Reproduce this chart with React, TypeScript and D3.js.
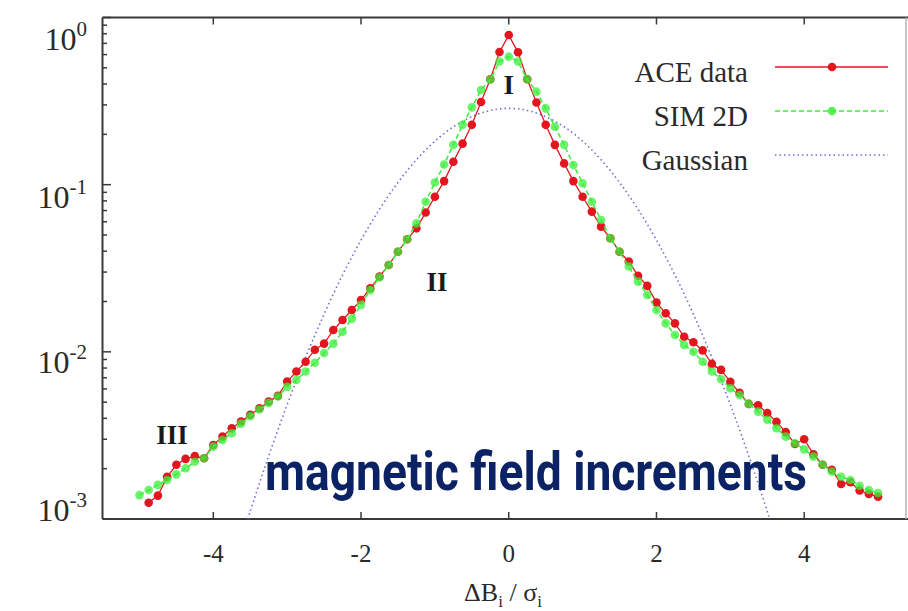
import React from "react";
import * as d3 from "d3";

// bin centres are multiples of the histogram bin width
const binWidth = 0.125;
const aceFirstBin = -39;
const simFirstBin = -40;

// ACE data, PDF of normalised increments
const aceValues = [
  1.25e-3, 1.38e-3, 1.79e-3, 2.11e-3, 2.29e-3, 2.38e-3, 2.31e-3, 2.77e-3, 3.11e-3, 3.49e-3,
  3.83e-3, 4.2e-3, 4.6e-3, 5.04e-3, 5.45e-3, 6.64e-3, 7.62e-3, 8.73e-3, 1.03e-2, 1.12e-2,
  1.35e-2, 1.55e-2, 1.78e-2, 2.04e-2, 2.4e-2, 2.82e-2, 3.31e-2, 3.97e-2, 4.71e-2, 5.48e-2,
  6.81e-2, 8.47e-2, 0.105, 0.137, 0.176, 0.228, 0.312, 0.427, 0.622, 0.785,
  0.619, 0.427, 0.31, 0.228, 0.173, 0.134, 0.105, 8.47e-2, 6.9e-2, 5.61e-2,
  4.78e-2, 3.97e-2, 3.47e-2, 2.85e-2, 2.48e-2, 1.97e-2, 1.7e-2, 1.48e-2, 1.23e-2, 1.14e-2,
  1.02e-2, 8.47e-3, 7.8e-3, 6.61e-3, 5.68e-3, 4.88e-3, 4.79e-3, 4.31e-3, 3.81e-3, 3.31e-3,
  2.81e-3, 3.0e-3, 2.44e-3, 2.11e-3, 1.97e-3, 1.62e-3, 1.66e-3, 1.48e-3, 1.41e-3, 1.36e-3,
];

// SIM 2D
const simValues = [
  1.39e-3, 1.49e-3, 1.6e-3, 1.71e-3, 1.85e-3, 2.01e-3, 2.2e-3, 2.31e-3, 2.71e-3, 2.97e-3,
  3.26e-3, 3.72e-3, 4.12e-3, 4.52e-3, 4.95e-3, 5.4e-3, 6.17e-3, 6.79e-3, 7.62e-3, 8.61e-3,
  9.84e-3, 1.12e-2, 1.32e-2, 1.58e-2, 1.91e-2, 2.34e-2, 2.79e-2, 3.31e-2, 3.97e-2, 4.71e-2,
  5.87e-2, 7.91e-2, 0.103, 0.132, 0.173, 0.228, 0.29, 0.368, 0.425, 0.545,
  0.583,
  0.545, 0.427, 0.36, 0.286, 0.222, 0.173, 0.131, 0.102, 7.91e-2, 6.15e-2,
  4.78e-2, 3.97e-2, 3.24e-2, 2.63e-2, 2.19e-2, 1.78e-2, 1.48e-2, 1.26e-2, 1.1e-2, 1.0e-2,
  8.73e-3, 7.62e-3, 6.85e-3, 6.05e-3, 5.52e-3, 4.88e-3, 4.39e-3, 3.92e-3, 3.49e-3, 3.11e-3,
  2.84e-3, 2.61e-3, 2.36e-3, 2.11e-3, 1.92e-3, 1.79e-3, 1.71e-3, 1.58e-3, 1.49e-3, 1.43e-3,
];

// Gaussian reference curve, sampled off the dotted line
const gaussX = [
  -3.75, -3.5, -3.25, -3, -2.75, -2.5, -2.25, -2, -1.75, -1.5, -1.25, -1, -0.75, -0.5, -0.25,
  0, 0.25, 0.5, 0.75, 1, 1.25, 1.5, 1.75, 2, 2.25, 2.5, 2.75, 3, 3.25, 3.5, 3.75,
];
const gaussY = [
  4.9e-4, 1.11e-3, 2.38e-3, 4.83e-3, 9.27e-3, 1.68e-2, 2.88e-2, 4.66e-2, 7.13e-2, 0.103, 0.141,
  0.182, 0.222, 0.255, 0.278, 0.286, 0.278, 0.255, 0.222, 0.182, 0.141, 0.103, 7.13e-2,
  4.66e-2, 2.88e-2, 1.68e-2, 9.27e-3, 4.83e-3, 2.38e-3, 1.11e-3, 4.9e-4,
];

const xTicks = [-4, -2, 0, 2, 4];
const yTicks = [1, 0.1, 0.01, 0.001];
const yTickExponents = ["0", "-1", "-2", "-3"];
const legendLabels = ["ACE data", "SIM 2D", "Gaussian"];
const regionLabels = ["I", "II", "III"];
const regionX = [0, -0.97, -4.56];
const regionY = [0.395, 0.026, 0.0032];

const W = 908;
const H = 611;
const serif = "'Liberation Serif', 'Times New Roman', serif";
const RED = "#e3161f";
const GREEN = "#3aef3a";
const BLUE = "#6e6ed8";

export default function App() {
  const x = d3.scaleLinear().domain([-5.5, 5.5]).range([102.5, 915]);
  const y = d3.scaleLog().domain([1e-3, 1]).range([519, 17.5]);

  const ace = aceValues.map((v, i) => ({ x: (aceFirstBin + i) * binWidth, y: v }));
  const sim = simValues.map((v, i) => ({ x: (simFirstBin + i) * binWidth, y: v }));
  const gauss = gaussX.map((gx, i) => ({ x: gx, y: gaussY[i] }));

  const line = d3
    .line<{ x: number; y: number }>()
    .x((d) => x(d.x))
    .y((d) => y(d.y));
  const smooth = line.curve(d3.curveCatmullRom);
  const gaussPath = smooth(gauss);
  line.curve(d3.curveLinear);

  const minorTicks: number[] = [];
  [0.001, 0.01, 0.1].forEach((dec) => {
    for (let m = 2; m <= 9; m++) minorTicks.push(dec * m);
  });

  // text labels sit a little off the tick in the original
  const yLabelShift = [21, 12, 10, -9];
  const legendY = [67, 111, 155];

  return (
    <svg
      width={W}
      height={H}
      style={{ position: "absolute", left: 0, top: 0, background: "#fff" }}
    >
      <defs>
        <clipPath id="plotClip">
          <rect x={102.5} y={17.5} width={812} height={501.5} />
        </clipPath>
      </defs>

      {/* frame */}
      <g stroke="#3a3a3a" strokeWidth={2} fill="none">
        <line x1={102.5} x2={W} y1={17.5} y2={17.5} />
        <line x1={102.5} x2={W} y1={519} y2={519} />
        <line x1={102.5} x2={102.5} y1={17.5} y2={519} />
      </g>
      <line x1={906} x2={906} y1={17.5} y2={519} stroke="#b5b5b5" strokeWidth={1.5} />

      {/* ticks */}
      <g stroke="#3a3a3a" strokeWidth={1.5}>
        {yTicks.map((t) => (
          <line key={"ym" + t} x1={102.5} x2={111} y1={y(t)} y2={y(t)} />
        ))}
        {minorTicks.map((t) => (
          <line key={"yn" + t} x1={102.5} x2={107} y1={y(t)} y2={y(t)} />
        ))}
        {xTicks.map((t) => (
          <g key={"xt" + t}>
            <line x1={x(t)} x2={x(t)} y1={519} y2={512} />
            <line x1={x(t)} x2={x(t)} y1={17.5} y2={24.5} />
          </g>
        ))}
      </g>

      {/* y tick labels */}
      {yTicks.map((t, i) => (
        <text
          key={"yl" + t}
          x={87}
          y={y(t) + yLabelShift[i] + 11}
          textAnchor="end"
          fontFamily={serif}
          fontSize={32}
          fill="#2a2a2a"
        >
          10
          <tspan dy={-14} fontSize={21}>
            {yTickExponents[i]}
          </tspan>
        </text>
      ))}

      {/* x tick labels */}
      {xTicks.map((t) => (
        <text
          key={"xl" + t}
          x={x(t)}
          y={562}
          textAnchor="middle"
          fontFamily={serif}
          fontSize={25}
          fill="#2a2a2a"
        >
          {t < 0 ? "-" + Math.abs(t) : t}
        </text>
      ))}

      {/* x axis title */}
      <text x={503} y={601} textAnchor="middle" fontFamily={serif} fontSize={26} fill="#2a2a2a">
        ΔB
        <tspan dy={6} fontSize={17}>i</tspan>
        <tspan dy={-6}> / σ</tspan>
        <tspan dy={6} fontSize={17}>i</tspan>
      </text>

      <g clipPath="url(#plotClip)">
        {/* Gaussian */}
        <path
          d={gaussPath || ""}
          fill="none"
          stroke={BLUE}
          strokeWidth={1.6}
          strokeDasharray="1.5 3"
        />
        {/* ACE data */}
        <path d={line(ace) || ""} fill="none" stroke={RED} strokeWidth={1.3} />
        {ace.map((d, i) => (
          <circle key={"a" + i} cx={x(d.x)} cy={y(d.y)} r={4.3} fill={RED} />
        ))}
        {/* SIM 2D */}
        <path
          d={line(sim) || ""}
          fill="none"
          stroke={GREEN}
          strokeWidth={1.5}
          strokeDasharray="5 3"
        />
        {sim.map((d, i) => (
          <circle key={"s" + i} cx={x(d.x)} cy={y(d.y)} r={4.3} fill={GREEN} fillOpacity={0.75} />
        ))}
      </g>

      {/* region labels */}
      {regionLabels.map((r, i) => (
        <text
          key={r}
          x={x(regionX[i])}
          y={y(regionY[i]) + 9}
          textAnchor="middle"
          fontFamily={serif}
          fontWeight="bold"
          fontSize={27}
          fill="#1a1a1a"
        >
          {r}
        </text>
      ))}

      {/* legend */}
      {legendLabels.map((label, i) => (
        <g key={label}>
          <text
            x={748}
            y={legendY[i] + 15}
            textAnchor="end"
            fontFamily={serif}
            fontSize={29}
            fill="#2a2a2a"
          >
            {label}
          </text>
          <line
            x1={775}
            x2={888}
            y1={legendY[i]}
            y2={legendY[i]}
            stroke={[RED, GREEN, BLUE][i]}
            strokeWidth={i === 2 ? 1.6 : 1.5}
            strokeDasharray={i === 0 ? undefined : i === 1 ? "5 3" : "1.5 3"}
          />
          {i < 2 && (
            <circle
              cx={832}
              cy={legendY[i]}
              r={4.3}
              fill={i === 0 ? RED : GREEN}
              fillOpacity={i === 0 ? 1 : 0.85}
            />
          )}
        </g>
      ))}

      {/* overlay caption */}
      <text
        x={265}
        y={490}
        fontFamily="Roboto, 'Noto Sans', sans-serif"
        fontWeight={700}
        fontSize={53}
        fill="#0b2265"
        textLength={542}
        lengthAdjust="spacingAndGlyphs"
      >
        magnetic field increments
      </text>
    </svg>
  );
}
